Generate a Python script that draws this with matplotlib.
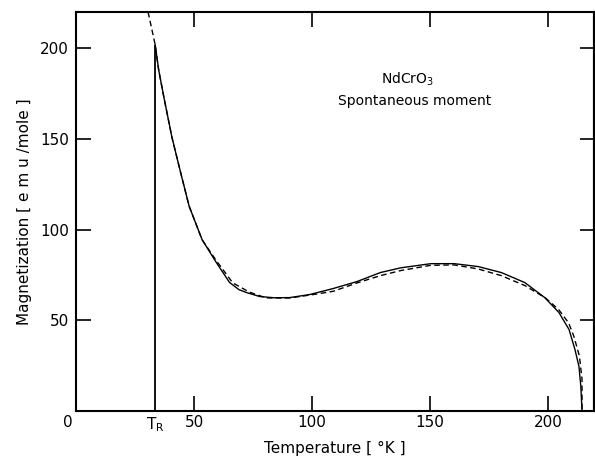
import numpy as np
import matplotlib.pyplot as plt
import matplotlib.transforms as mtransforms

# --- data ---
t_r = 33.5  # spin reorientation temperature

solid_t = [33.5, 35, 37.2, 40.6, 44.4, 47.9, 53.4, 59.4, 65, 69, 72.2, 77.8, 84,
           90.6, 99.1, 109, 119, 129, 137.6, 150.4, 160.3, 170.5, 180.3, 190.2,
           198.7, 204.7, 209, 211.5, 213.2, 214, 214.5]
solid_m = [202, 188, 173, 151, 131, 113, 94.5, 82, 71, 67, 65.4, 63.2, 62.5,
           62.6, 64.3, 67.6, 71.4, 76.4, 79, 81.3, 81.3, 79.7, 76.4, 70.9,
           62.6, 54.4, 45, 34, 24.7, 13.7, 0]

dash_t = [30.5, 32, 33.5, 35, 37.2, 40.6, 44.4, 47.9, 53.4, 59.4, 66.4, 73.5,
          80.6, 90.6, 100.6, 109.1, 119.1, 129, 137.6, 150.4, 160.4, 170.4,
          180.3, 190.3, 198.9, 204.6, 208.8, 211, 213.4, 214.5, 214.5]
dash_m = [220, 211, 202, 188, 173, 151, 131, 113, 94.5, 83, 70.7, 65.6,
          62.4, 62.4, 64.3, 66.1, 70.7, 74.7, 77.5, 80.4, 80.6, 78.4,
          74.7, 69.2, 62.5, 56, 48.7, 41.4, 30.4, 17.6, 0]

x_ticks = [0, t_r, 50, 100, 150, 200]
x_labels = ['0', r'T$_\mathrm{R}$', '50', '100', '150', '200']
y_ticks = [50, 100, 150, 200]

# --- plotting ---
fig = plt.figure(figsize=(5.95, 4.62), dpi=100)
ax = fig.add_axes([0.128, 0.110, 0.870, 0.864])

ax.plot(solid_t, solid_m, color='black', lw=1.0)
ax.plot(dash_t, dash_m, color='black', lw=1.0, linestyle=(0, (4, 2.5)))
ax.vlines(t_r, 0, solid_m[0], color='black', lw=1.3)

ax.set_xlim(0, 219.5)
ax.set_ylim(0, 220)

ax.set_xticks(x_ticks)
ax.set_xticklabels(x_labels, fontsize=11)
ax.set_yticks(y_ticks)
ax.set_yticklabels([str(v) for v in y_ticks], fontsize=11)

ax.tick_params(axis='x', direction='in', length=11, width=1.2, top=True, pad=3)
ax.tick_params(axis='y', direction='in', length=11, width=1.2, pad=5)
# 0 and T_R carry no tick marks
for i in (0, 1):
    ax.xaxis.get_major_ticks()[i].tick1line.set_visible(False)
    ax.xaxis.get_major_ticks()[i].tick2line.set_visible(False)
# the "0" label sits a little left of the corner
zero_lab = ax.get_xticklabels()[0]
zero_lab.set_transform(zero_lab.get_transform() +
                       mtransforms.ScaledTranslation(-8 / 100, 0, fig.dpi_scale_trans))

# inward ticks on the right side
ax2 = ax.secondary_yaxis('right')
ax2.set_yticks(y_ticks)
ax2.set_yticklabels([])
ax2.tick_params(direction='in', length=10, width=1.2)
ax2.spines['right'].set_linewidth(1.5)

for s in ax.spines.values():
    s.set_linewidth(1.5)

ax.set_xlabel('Temperature [ °K ]', fontsize=11, labelpad=5)
ax.set_ylabel('Magnetization [ e m u /mole ]', fontsize=11, labelpad=6)

ax.text(140.5, 183, r'NdCrO$_3$', ha='center', va='center', fontsize=10)
ax.text(143.5, 171, 'Spontaneous moment', ha='center', va='center', fontsize=10)

plt.savefig('out.png', dpi=100)
